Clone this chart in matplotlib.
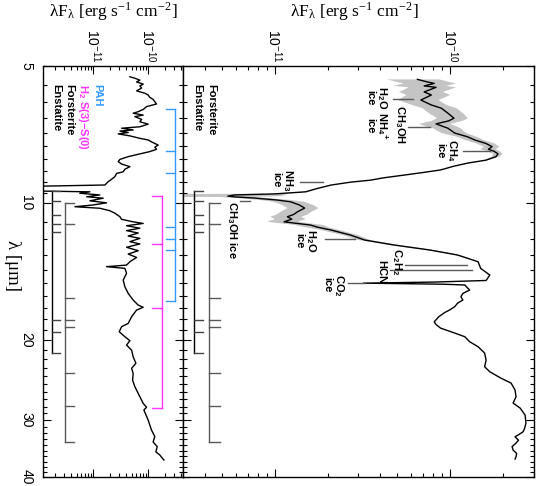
import numpy as np
import matplotlib
matplotlib.use('Agg')
import matplotlib.pyplot as plt
from matplotlib.ticker import NullFormatter, LogLocator

plt.rcParams['font.family'] = 'Liberation Sans'
plt.rcParams['mathtext.fontset'] = 'stix'

# observed spectrum (big panel), flux in units of 1e-11 erg/s/cm2
lam_obs = [5.35, 5.42, 5.46, 5.53, 5.57, 5.70, 5.79, 5.94, 6.09, 6.19, 6.35, 6.51,
           6.60, 6.70, 6.78, 6.85, 7.02, 7.15, 7.27, 7.40, 7.52, 7.62, 7.70, 7.80,
           7.91, 8.05, 8.17, 8.30, 8.46, 8.57, 8.68, 8.80, 8.91, 9.00, 9.13, 9.29,
           9.45, 9.55, 9.60, 9.66, 9.70, 9.75, 9.85, 9.94, 10.10, 10.26, 10.45, 10.60,
           10.72, 10.85, 11.00, 11.18, 11.30, 11.46, 11.76, 12.06, 12.37, 12.69, 13.01,
           13.46, 13.92, 14.40, 14.80, 14.92, 15.00, 15.08, 15.14, 15.35, 15.53, 15.80,
           16.07, 16.34, 16.60, 16.90, 17.19, 17.40, 17.78, 18.24, 18.50, 18.83, 19.31,
           19.67, 20.18, 20.69, 21.37, 22.14, 22.90, 23.49, 24.25, 24.87, 25.77, 26.66,
           27.52, 28.22, 29.24, 30.45, 31.30, 31.82, 32.30, 32.64, 33.20, 33.69, 34.30,
           34.91, 35.50, 36.11, 36.53]
flux_obs = [6.5, 7.4, 8.1, 7.1, 8.3, 7.1, 7.8, 6.8, 7.8, 8.9, 9.7, 10.5,
            9.8, 8.3, 9.0, 9.7, 10.6, 12.5, 13.8, 16.0, 17.3, 16.5, 17.8, 18.7,
            18.2, 16.0, 12.6, 10.5, 8.8, 7.0, 5.5, 4.2, 3.5, 2.7, 2.1, 1.75,
            1.5, 1.0, 0.59, 0.54, 0.60, 0.76, 1.03, 1.23, 1.38, 1.48, 1.35, 1.28,
            1.18, 1.25, 1.13, 1.60, 1.75, 2.08, 2.70, 3.25, 4.8, 7.7, 11.0,
            14.4, 14.9, 16.8, 16.0, 8.0, 3.2, 9.0, 12.1, 12.5, 12.9, 11.8,
            11.5, 11.8, 11.0, 10.6, 9.9, 9.3, 8.6, 8.1, 8.3, 8.8, 10.6,
            12.1, 12.9, 14.4, 15.7, 16.0, 15.7, 16.8, 19.4, 22.2, 23.4, 23.7,
            22.8, 25.0, 26.7, 27.0, 26.5, 26.0, 24.5, 23.4, 24.5, 23.7, 22.5,
            22.8, 23.9, 23.7, 23.4]
# fractional uncertainty (grey band)
err_obs = [0.33, 0.33, 0.33, 0.33, 0.30, 0.28, 0.28, 0.26, 0.22, 0.22, 0.22, 0.20,
           0.20, 0.20, 0.20, 0.18, 0.16, 0.13, 0.12, 0.12, 0.10, 0.10, 0.08, 0.06,
           0.05, 0.02, 0.0, 0.0, 0.0, 0.0, 0.0, 0.0, 0.0, 0.0, 0.0, 0.0,
           0.0, 0.1, 1.0, 1.0, 0.2, 0.2, 0.2, 0.2, 0.2, 0.2, 0.2, 0.2,
           0.2, 0.2, 0.2, 0.18, 0.15, 0.12, 0.1, 0.08, 0.06, 0.05, 0.03,
           0.0, 0.0, 0.0, 0.0, 0.0, 0.0, 0.0, 0.0, 0.0, 0.0, 0.0,
           0.0, 0.0, 0.0, 0.0, 0.0, 0.0, 0.0, 0.0, 0.0, 0.0, 0.0,
           0.0, 0.0, 0.0, 0.0, 0.0, 0.0, 0.0, 0.0, 0.0, 0.0, 0.0,
           0.0, 0.0, 0.0, 0.0, 0.0, 0.0, 0.0, 0.0, 0.0, 0.0, 0.0,
           0.0, 0.0, 0.0, 0.0]

# residual spectrum (narrow panel), flux in units of 1e-11
lam_res = [5.28, 5.32, 5.37, 5.42, 5.48, 5.53, 5.59, 5.67, 5.74, 5.79, 5.86, 5.92,
           5.99, 6.06, 6.14, 6.23, 6.30, 6.35, 6.41, 6.46, 6.55, 6.63, 6.71, 6.80,
           6.85, 6.91, 6.95, 7.00, 7.05, 7.12, 7.21, 7.27, 7.37, 7.46, 7.54, 7.62,
           7.71, 7.80, 7.91, 8.02, 8.11, 8.21, 8.32, 8.43, 8.54, 8.61, 8.75, 8.87,
           8.98, 9.13, 9.20, 9.40, 9.45, 9.52, 9.60, 9.69, 9.76, 9.89, 9.99, 10.10,
           10.19, 10.27, 10.40, 10.53, 10.72, 10.86, 11.00, 11.09, 11.22, 11.36, 11.50,
           11.64, 11.82, 11.96, 12.16, 12.30, 12.51, 12.73, 12.95, 13.17, 13.46, 13.69,
           13.80, 13.92, 14.27, 14.77, 15.28, 15.80, 16.34, 16.76, 16.95, 17.19, 17.78,
           18.39, 18.70, 19.18, 19.67, 20.07, 20.52, 21.05, 21.77, 22.50, 23.08, 23.70,
           24.50, 25.34, 26.20, 27.56, 28.10, 28.50, 30.00, 31.55, 32.60, 33.50, 34.30,
           35.20, 35.80, 36.70]
flux_res = [4.65, 5.73, 7.06, 6.15, 8.11, 7.06, 7.59, 6.15, 8.71, 10.0, 10.7, 12.3,
            13.2, 14.2, 9.35, 8.11, 6.58, 5.33, 8.11, 5.73, 7.59, 7.06, 10.0, 7.06,
            3.28, 5.33, 3.06, 4.33, 2.85, 4.65, 7.06, 10.0, 12.3, 15.2, 13.2, 14.2,
            10.7, 7.06, 4.33, 3.06, 2.85, 3.28, 4.65, 3.77, 3.51, 2.66, 2.48, 2.16,
            1.87, 1.63, 0.05, 0.05, 0.87, 0.57, 1.32, 0.76, 1.52, 0.87, 1.75, 1.0,
            0.465, 1.32, 2.01, 2.48, 3.06, 3.28, 5.33, 8.11, 4.04, 7.06, 4.04,
            6.58, 4.33, 7.06, 4.65, 7.06, 4.04, 6.58, 4.33, 6.15, 4.65, 4.04,
            1.75, 3.77, 4.04, 3.51, 3.77, 4.33, 5.33, 6.58, 8.11, 6.15, 4.99,
            4.33, 3.28, 2.97, 3.77, 4.65, 4.04, 4.99, 5.33, 5.98, 4.99, 5.33,
            5.20, 5.73, 6.58, 8.11, 9.35, 8.35, 10.0, 11.5, 13.2, 12.3, 14.6,
            13.8, 16.3, 19.3]

# feature wavelengths (micron)
pah_lines = [6.2, 7.7, 8.6, 11.3, 12.0, 12.7, 16.4]
h2_lines = [9.66, 12.28, 17.03, 28.22]
forsterite = [10.0, 11.1, 16.2, 18.1, 18.7, 23.6, 27.9, 33.5]
enstatite = [9.4, 9.9, 10.6, 11.1, 11.6, 18.1, 19.2, 21.4]

# ice / gas features marked on the observed spectrum
ice_lam = [5.9, 6.82, 7.67, 8.98, 9.88, 12.0, 13.7, 14.0, 15.0]

# flux axis ticks
flux_ticks = [1e-11, 1e-10]
flux_ticklabels = ['$\\mathdefault{10^{-11}}$', '$\\mathdefault{10^{-10}}$']

lam_obs = np.array(lam_obs)
f_obs = np.array(flux_obs) * 1e-11
e_obs = np.array(err_obs) * f_obs
lam_res = np.array(lam_res)
f_res = np.array(flux_res) * 1e-11

fig = plt.figure(figsize=(5.4, 4.86), dpi=100)
bot = 1 - 477 / 486.
hgt = 411 / 486.
axL = fig.add_axes([43 / 540., bot, 140 / 540., hgt])
axR = fig.add_axes([183 / 540., bot, 351 / 540., hgt])

minor_lam = list(np.arange(5.5, 10, 0.5)) + [l for l in range(11, 40) if l not in (20, 30)]

for ax, xl in ((axL, (1.22e-12, 4.3e-10)), (axR, (3e-12, 3e-10))):
    ax.set_xscale('log')
    ax.set_yscale('log')
    ax.set_xlim(*xl)
    ax.set_ylim(40, 5)
    ax.set_yticks([5, 10, 20, 30, 40], labels=['5', '10', '20', '30', '40'])
    ax.set_yticks(minor_lam, minor=True)
    ax.yaxis.set_minor_formatter(NullFormatter())
    ax.set_xticks(flux_ticks)
    ax.xaxis.set_minor_locator(LogLocator(base=10, subs=np.arange(2, 10)))
    ax.xaxis.set_minor_formatter(NullFormatter())
    ax.tick_params(which='both', direction='in', top=True, bottom=True, left=True, right=True,
                   labeltop=False, labelbottom=False, width=0.8, labelsize=10)
    ax.tick_params(which='major', length=6)
    ax.tick_params(which='minor', length=2.8)
    ax.tick_params(axis='y', labelrotation=-90, pad=7)
    for sp in ax.spines.values():
        sp.set_linewidth(1.0)
    # rotated flux tick labels above the top spine
    for v, s in zip(flux_ticks, flux_ticklabels):
        ax.text(v, 1.008, s, transform=ax.get_xaxis_transform(), rotation=-90,
                ha='center', va='bottom', fontsize=10)

axR.tick_params(axis='y', labelleft=False)
for lab in axL.get_yticklabels():
    lab.set_va('center')

# spectra
axR.fill_betweenx(lam_obs, f_obs - e_obs, f_obs + e_obs, color='#c4c4c4', lw=0)
axR.plot(f_obs, lam_obs, color='black', lw=1.0)
axL.plot(f_res, lam_res, color='black', lw=1.0)


def bracket(ax, lines, x0, x1, color, lw=1.0, tcolor=None):
    tr = ax.get_yaxis_transform()
    ax.plot([x0, x0], [min(lines), max(lines)], color=color, lw=lw, transform=tr)
    for l in lines:
        ax.plot([x0, x1], [l, l], color=tcolor or color, lw=lw, transform=tr)


pah_col = '#3399ff'
h2_col = '#ff33ff'
grey = '#5a5a5a'

bracket(axL, enstatite, 0.062, 0.121, 'black', tcolor='#444444')
bracket(axL, forsterite, 0.157, 0.221, grey)
bracket(axL, pah_lines, 0.943, 0.879, pah_col)
bracket(axL, h2_lines, 0.85, 0.779, h2_col)
bracket(axR, enstatite, 0.030, 0.057, 'black', tcolor='#444444')
bracket(axR, forsterite, 0.074, 0.105, grey)

tf = dict(rotation=-90, fontsize=8, fontweight='bold', rotation_mode='default')
trL = axL.get_yaxis_transform()
trR = axR.get_yaxis_transform()
axL.text(0.386, 5.48, 'PAH', color=pah_col, transform=trL, ha='center', va='top', **tf)
axL.text(0.286, 5.48, 'H$_\\mathregular{2}$ S(3)\u2212S(0)', color=h2_col, transform=trL,
         ha='center', va='top', **tf)
axL.text(0.186, 5.48, 'Forsterite', color='black', transform=trL, ha='center', va='top', **tf)
axL.text(0.093, 5.48, 'Enstatite', color='black', transform=trL, ha='center', va='top', **tf)
axR.text(0.080, 5.48, 'Forsterite', color='black', transform=trR, ha='center', va='top', **tf)
axR.text(0.040, 5.48, 'Enstatite', color='black', transform=trR, ha='center', va='top', **tf)

# ice feature markers
seg = [(0.598, 0.655), (0.641, 0.704), (0.798, 0.875), (0.333, 0.399), (0.162, 0.191),
       (0.405, 0.49), (0.632, 0.809), (0.59, 0.823), (0.47, 0.519)]
for l, (x0, x1) in zip(ice_lam, seg):
    axR.plot([x0, x1], [l, l], color=grey, lw=1.0, transform=trR)

sub = lambda s: '$_\\mathregular{%s}$' % s
labels = [
    ('H' + sub('2') + 'O\nice', 0.553, 5.88, 'center'),
    ('NH' + sub('4') + '$^\\mathregular{+}$\nice', 0.553, 6.75, 'center'),
    ('CH' + sub('3') + 'OH', 0.618, 6.72, 'center'),
    ('CH' + sub('4') + '\nice', 0.752, 7.67, 'center'),
    ('NH' + sub('3') + '\nice', 0.285, 8.9, 'center'),
    ('CH' + sub('3') + 'OH ice', 0.14, 9.9, 'top'),
    ('H' + sub('2') + 'O\nice', 0.35, 12.1, 'center'),
    ('C' + sub('2') + 'H' + sub('2'), 0.61, 13.45, 'center'),
    ('HCN', 0.564, 14.15, 'center'),
    ('CO' + sub('2') + '\nice', 0.43, 15.15, 'center'),
]
for txt, xa, l, va in labels:
    axR.text(xa, l, txt, transform=trR, ha='center', va=va, linespacing=1.0, **tf)

# axis labels
flab = 'λF$_\\mathregular{λ}$ [erg s$^\\mathregular{-1}$ cm$^\\mathregular{-2}$]'
fig.text(113 / 540., 1 - 12 / 486., flab, ha='center', va='center', fontsize=12.5,
         family='Liberation Serif')
fig.text(354 / 540., 1 - 12 / 486., flab, ha='center', va='center', fontsize=12.5,
         family='Liberation Serif')
fig.text(12 / 540., 1 - 266 / 486., 'λ [μm]', rotation=-90, ha='center', va='center',
         fontsize=13.5, family='Liberation Serif')

fig.savefig('out.png', dpi=100)
